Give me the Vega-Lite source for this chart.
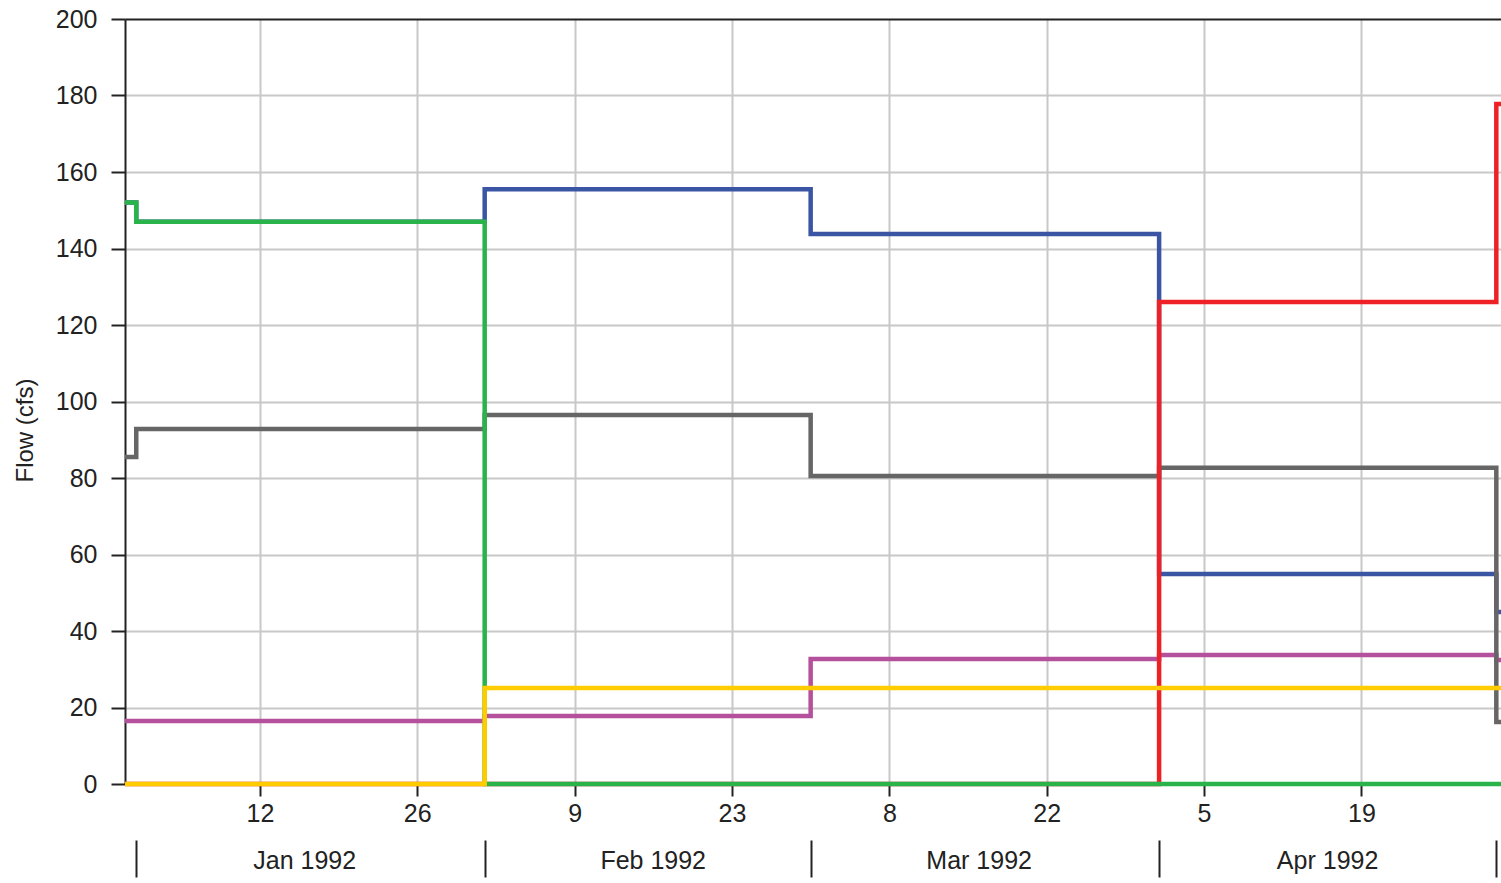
{
  "$schema": "https://vega.github.io/schema/vega-lite/v6.json",
  "width": 1376,
  "height": 765,
  "autosize": {"type": "none"},
  "padding": {"left": 125, "top": 19, "right": 0, "bottom": 99},
  "background": "white",
  "config": {
    "view": {"stroke": null},
    "font": "Liberation Sans",
    "axis": {"labelFont": "Liberation Sans", "titleFont": "Liberation Sans", "labelColor": "#222222", "titleColor": "#222222"}
  },
  "data": {
    "values": [
      {"date": "1991-12-31T00:00:00", "series": "S1", "flow": 152},
      {"date": "1992-01-01T00:00:00", "series": "S1", "flow": 147},
      {"date": "1992-02-01T00:00:00", "series": "S1", "flow": 155.5},
      {"date": "1992-03-01T00:00:00", "series": "S1", "flow": 143.8},
      {"date": "1992-04-01T00:00:00", "series": "S1", "flow": 54.9},
      {"date": "1992-05-01T00:00:00", "series": "S1", "flow": 45},
      {"date": "1992-05-03T00:00:00", "series": "S1", "flow": 45},
      {"date": "1991-12-31T00:00:00", "series": "S2", "flow": 16.5},
      {"date": "1992-01-01T00:00:00", "series": "S2", "flow": 16.5},
      {"date": "1992-02-01T00:00:00", "series": "S2", "flow": 17.8},
      {"date": "1992-03-01T00:00:00", "series": "S2", "flow": 32.7},
      {"date": "1992-04-01T00:00:00", "series": "S2", "flow": 33.7},
      {"date": "1992-05-01T00:00:00", "series": "S2", "flow": 32.4},
      {"date": "1992-05-03T00:00:00", "series": "S2", "flow": 32.4},
      {"date": "1991-12-31T00:00:00", "series": "S3", "flow": 85.5},
      {"date": "1992-01-01T00:00:00", "series": "S3", "flow": 92.8},
      {"date": "1992-02-01T00:00:00", "series": "S3", "flow": 96.5},
      {"date": "1992-03-01T00:00:00", "series": "S3", "flow": 80.5},
      {"date": "1992-04-01T00:00:00", "series": "S3", "flow": 82.7},
      {"date": "1992-05-01T00:00:00", "series": "S3", "flow": 16.2},
      {"date": "1992-05-03T00:00:00", "series": "S3", "flow": 16.2},
      {"date": "1991-12-31T00:00:00", "series": "S4", "flow": 0},
      {"date": "1992-01-01T00:00:00", "series": "S4", "flow": 0},
      {"date": "1992-02-01T00:00:00", "series": "S4", "flow": 0},
      {"date": "1992-03-01T00:00:00", "series": "S4", "flow": 0},
      {"date": "1992-04-01T00:00:00", "series": "S4", "flow": 126},
      {"date": "1992-05-01T00:00:00", "series": "S4", "flow": 177.8},
      {"date": "1992-05-03T00:00:00", "series": "S4", "flow": 177.8},
      {"date": "1991-12-31T00:00:00", "series": "S5", "flow": 152},
      {"date": "1992-01-01T00:00:00", "series": "S5", "flow": 147},
      {"date": "1992-02-01T00:00:00", "series": "S5", "flow": 0},
      {"date": "1992-03-01T00:00:00", "series": "S5", "flow": 0},
      {"date": "1992-04-01T00:00:00", "series": "S5", "flow": 0},
      {"date": "1992-05-01T00:00:00", "series": "S5", "flow": 0},
      {"date": "1992-05-03T00:00:00", "series": "S5", "flow": 0},
      {"date": "1991-12-31T00:00:00", "series": "S6", "flow": 0},
      {"date": "1992-01-01T00:00:00", "series": "S6", "flow": 0},
      {"date": "1992-02-01T00:00:00", "series": "S6", "flow": 25.1},
      {"date": "1992-03-01T00:00:00", "series": "S6", "flow": 25.1},
      {"date": "1992-04-01T00:00:00", "series": "S6", "flow": 25.1},
      {"date": "1992-05-01T00:00:00", "series": "S6", "flow": 25.1},
      {"date": "1992-05-03T00:00:00", "series": "S6", "flow": 25.1}
    ]
  },
  "layer": [
    {
      "mark": {"type": "line", "interpolate": "step-after", "strokeWidth": 4.5, "clip": false},
      "encoding": {
        "x": {
          "field": "date",
          "type": "temporal",
          "scale": {"domain": [{"year": 1991, "month": 12, "date": 31}, {"year": 1992, "month": 5, "date": 1, "hours": 10}]},
          "axis": {
            "title": null,
            "orient": "bottom",
            "values": [
              {"year": 1992, "month": 1, "date": 12},
              {"year": 1992, "month": 1, "date": 26},
              {"year": 1992, "month": 2, "date": 9},
              {"year": 1992, "month": 2, "date": 23},
              {"year": 1992, "month": 3, "date": 8},
              {"year": 1992, "month": 3, "date": 22},
              {"year": 1992, "month": 4, "date": 5},
              {"year": 1992, "month": 4, "date": 19}
            ],
            "format": "%-d",
            "labelFontSize": 25,
            "labelPadding": 5,
            "labelFlush": false,
            "labelOverlap": false,
            "tickSize": 12,
            "tickWidth": 2,
            "tickColor": "#222222",
            "domain": false,
            "grid": true,
            "gridColor": "#c8c8c8",
            "gridWidth": 2
          }
        },
        "y": {
          "field": "flow",
          "type": "quantitative",
          "scale": {"domain": [0, 200], "nice": false, "zero": true},
          "axis": {
            "title": "Flow (cfs)",
            "values": [0, 20, 40, 60, 80, 100, 120, 140, 160, 180, 200],
            "labelFontSize": 25,
            "labelPadding": 14,
            "tickSize": 14,
            "tickWidth": 2,
            "tickColor": "#222222",
            "domainColor": "#222222",
            "domainWidth": 2,
            "grid": true,
            "gridColor": {"condition": {"test": "datum.value === 200", "value": "#222222"}, "value": "#c8c8c8"},
            "gridWidth": 2,
            "titleFontSize": 24,
            "titleFontWeight": "normal",
            "titleAngle": -90,
            "titleX": -100,
            "titleY": 411,
            "titleAlign": "center",
            "titleBaseline": "middle"
          }
        },
        "color": {
          "field": "series",
          "type": "nominal",
          "scale": {"domain": ["S1", "S2", "S3", "S4", "S5", "S6"], "range": ["#3a55a4", "#b5519c", "#666666", "#ee2127", "#2ab34b", "#ffcc00"]},
          "legend": null
        }
      }
    },
    {
      "mark": {"type": "rule", "opacity": 0},
      "encoding": {
        "x": {
          "field": "date",
          "type": "temporal",
          "axis": {
            "title": null,
            "orient": "bottom",
            "offset": 56,
            "values": [
              {"year": 1992, "month": 1, "date": 1},
              {"year": 1992, "month": 2, "date": 1},
              {"year": 1992, "month": 3, "date": 1},
              {"year": 1992, "month": 4, "date": 1},
              {"year": 1992, "month": 5, "date": 1}
            ],
            "labelExpr": "month(datum.value) === 4 ? '' : timeFormat(datum.value, '%b %Y')",
            "labelFontSize": 25,
            "labelOffset": 168,
            "labelPadding": -29,
            "labelAlign": "center",
            "labelFlush": false,
            "labelOverlap": false,
            "labelBound": false,
            "tickSize": 37,
            "tickWidth": 2,
            "tickColor": "#222222",
            "domain": false,
            "grid": false
          }
        }
      }
    }
  ],
  "resolve": {"axis": {"x": "independent"}}
}
